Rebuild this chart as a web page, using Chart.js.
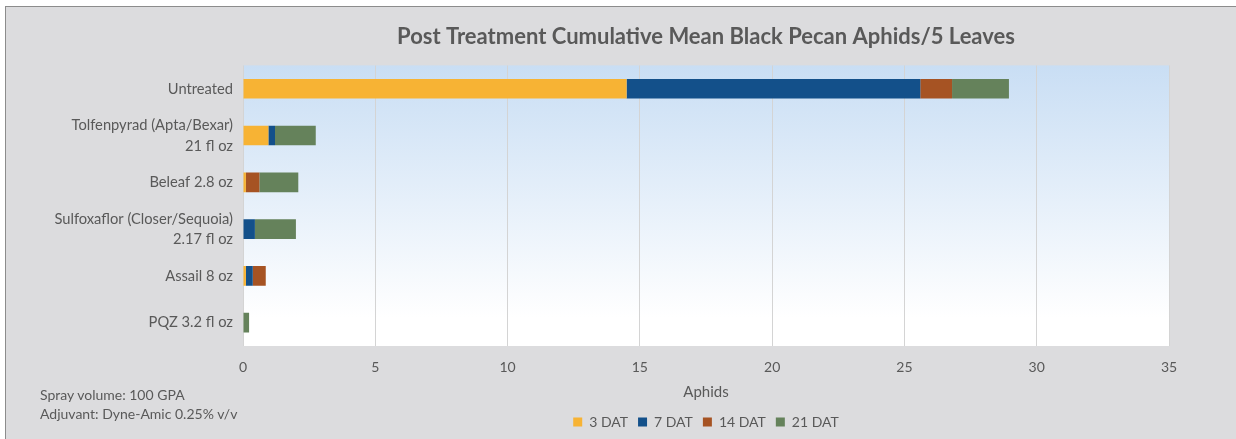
<!DOCTYPE html>
<html>
<head>
<meta charset="utf-8">
<script src="https://cdn.jsdelivr.net/npm/chart.js"></script>
<style>
  body { margin: 0; background: #ffffff; }
  #marco { position: absolute; left: 5px; top: 6px; width: 1240px; height: 440px; border: 1px solid #8c8c8c; background: #dcdcde; }
  #lienzo { position: absolute; left: 0; top: 0; width: 1236px; height: 439px; }
  #nota { position: absolute; left: 40px; top: 385px; font-family: Lato, sans-serif; font-size: 14px; color: #595959; line-height: 19px; }
</style>
</head>
<body>
<div id="marco"></div>
<div id="lienzo"><canvas id="myChart" width="1236" height="439"></canvas></div>
<div id="nota">Spray volume: 100 GPA<br>Adjuvant: Dyne-Amic 0.25% v/v</div>
<script>
// Datos del grafico
const categorias = ["Untreated", ["Tolfenpyrad (Apta/Bexar)", "21 fl oz"], "Beleaf 2.8 oz",
  ["Sulfoxaflor (Closer/Sequoia)", "2.17 fl oz"], "Assail 8 oz", "PQZ 3.2 fl oz"];
const series = ["3 DAT", "7 DAT", "14 DAT", "21 DAT"];
const dat3 = [14.5, 0.96, 0.11, 0, 0.11, 0];
const dat7 = [11.1, 0.25, 0, 0.45, 0.26, 0];
const dat14 = [1.2, 0, 0.51, 0, 0.49, 0];
const dat21 = [2.15, 1.54, 1.47, 1.55, 0, 0.23];
const colores = ["#f7b334", "#13508a", "#a65323", "#65825b"];

const gris = "#595959";
const fuente = "Lato, sans-serif";

// fondo degradado del area de grafico
const fondoArea = {
  id: "fondoArea",
  beforeDraw(chart) {
    const {ctx, chartArea: a} = chart;
    const g = ctx.createLinearGradient(0, a.top, 0, a.bottom);
    g.addColorStop(0, "#c9def4");
    g.addColorStop(0.9, "#ffffff");
    g.addColorStop(1, "#ffffff");
    ctx.save();
    ctx.fillStyle = g;
    ctx.fillRect(a.left, a.top, a.right - a.left, a.bottom - a.top);
    ctx.restore();
  }
};

const valores = [dat3, dat7, dat14, dat21];
const data = {
  labels: categorias,
  datasets: series.map((s, i) => ({
    label: s,
    data: valores[i],
    backgroundColor: colores[i],
    borderWidth: 0,
    barPercentage: 0.42,
    categoryPercentage: 1
  }))
};

const config = {
  type: "bar",
  data: data,
  options: {
    indexAxis: "y",
    responsive: false,
    animation: false,
    layout: { padding: { left: 0, right: 67, top: 0, bottom: 0 } },
    plugins: {
      title: {
        display: true,
        text: "Post Treatment Cumulative Mean Black Pecan Aphids/5 Leaves",
        color: gris,
        fullSize: false,
        font: { family: fuente, size: 22, weight: "bold" },
        padding: { top: 24, bottom: 15 }
      },
      legend: {
        position: "bottom",
        fullSize: false,
        labels: {
          color: gris,
          boxWidth: 9,
          boxHeight: 9,
          padding: 10,
          font: { family: fuente, size: 14 }
        }
      },
      tooltip: { enabled: false }
    },
    scales: {
      x: {
        stacked: true,
        min: 0,
        max: 35,
        ticks: { stepSize: 5, color: gris, padding: 13, font: { family: fuente, size: 14 } },
        grid: { color: "#d4d4d4", lineWidth: 1, drawTicks: false },
        border: { display: false },
        title: { display: true, text: "Aphids", color: gris, font: { family: fuente, size: 15 }, padding: { top: 4, bottom: 4 } },
        afterFit(scale) { scale.height = 59; }
      },
      y: {
        stacked: true,
        ticks: { color: gris, padding: 10, font: { family: fuente, size: 14.7, lineHeight: 1.4 } },
        grid: { display: false, drawTicks: false },
        border: { display: false },
        afterFit(scale) { scale.width = 243; }
      }
    }
  },
  plugins: [fondoArea]
};

new Chart(document.getElementById("myChart"), config);
</script>
</body>
</html>
